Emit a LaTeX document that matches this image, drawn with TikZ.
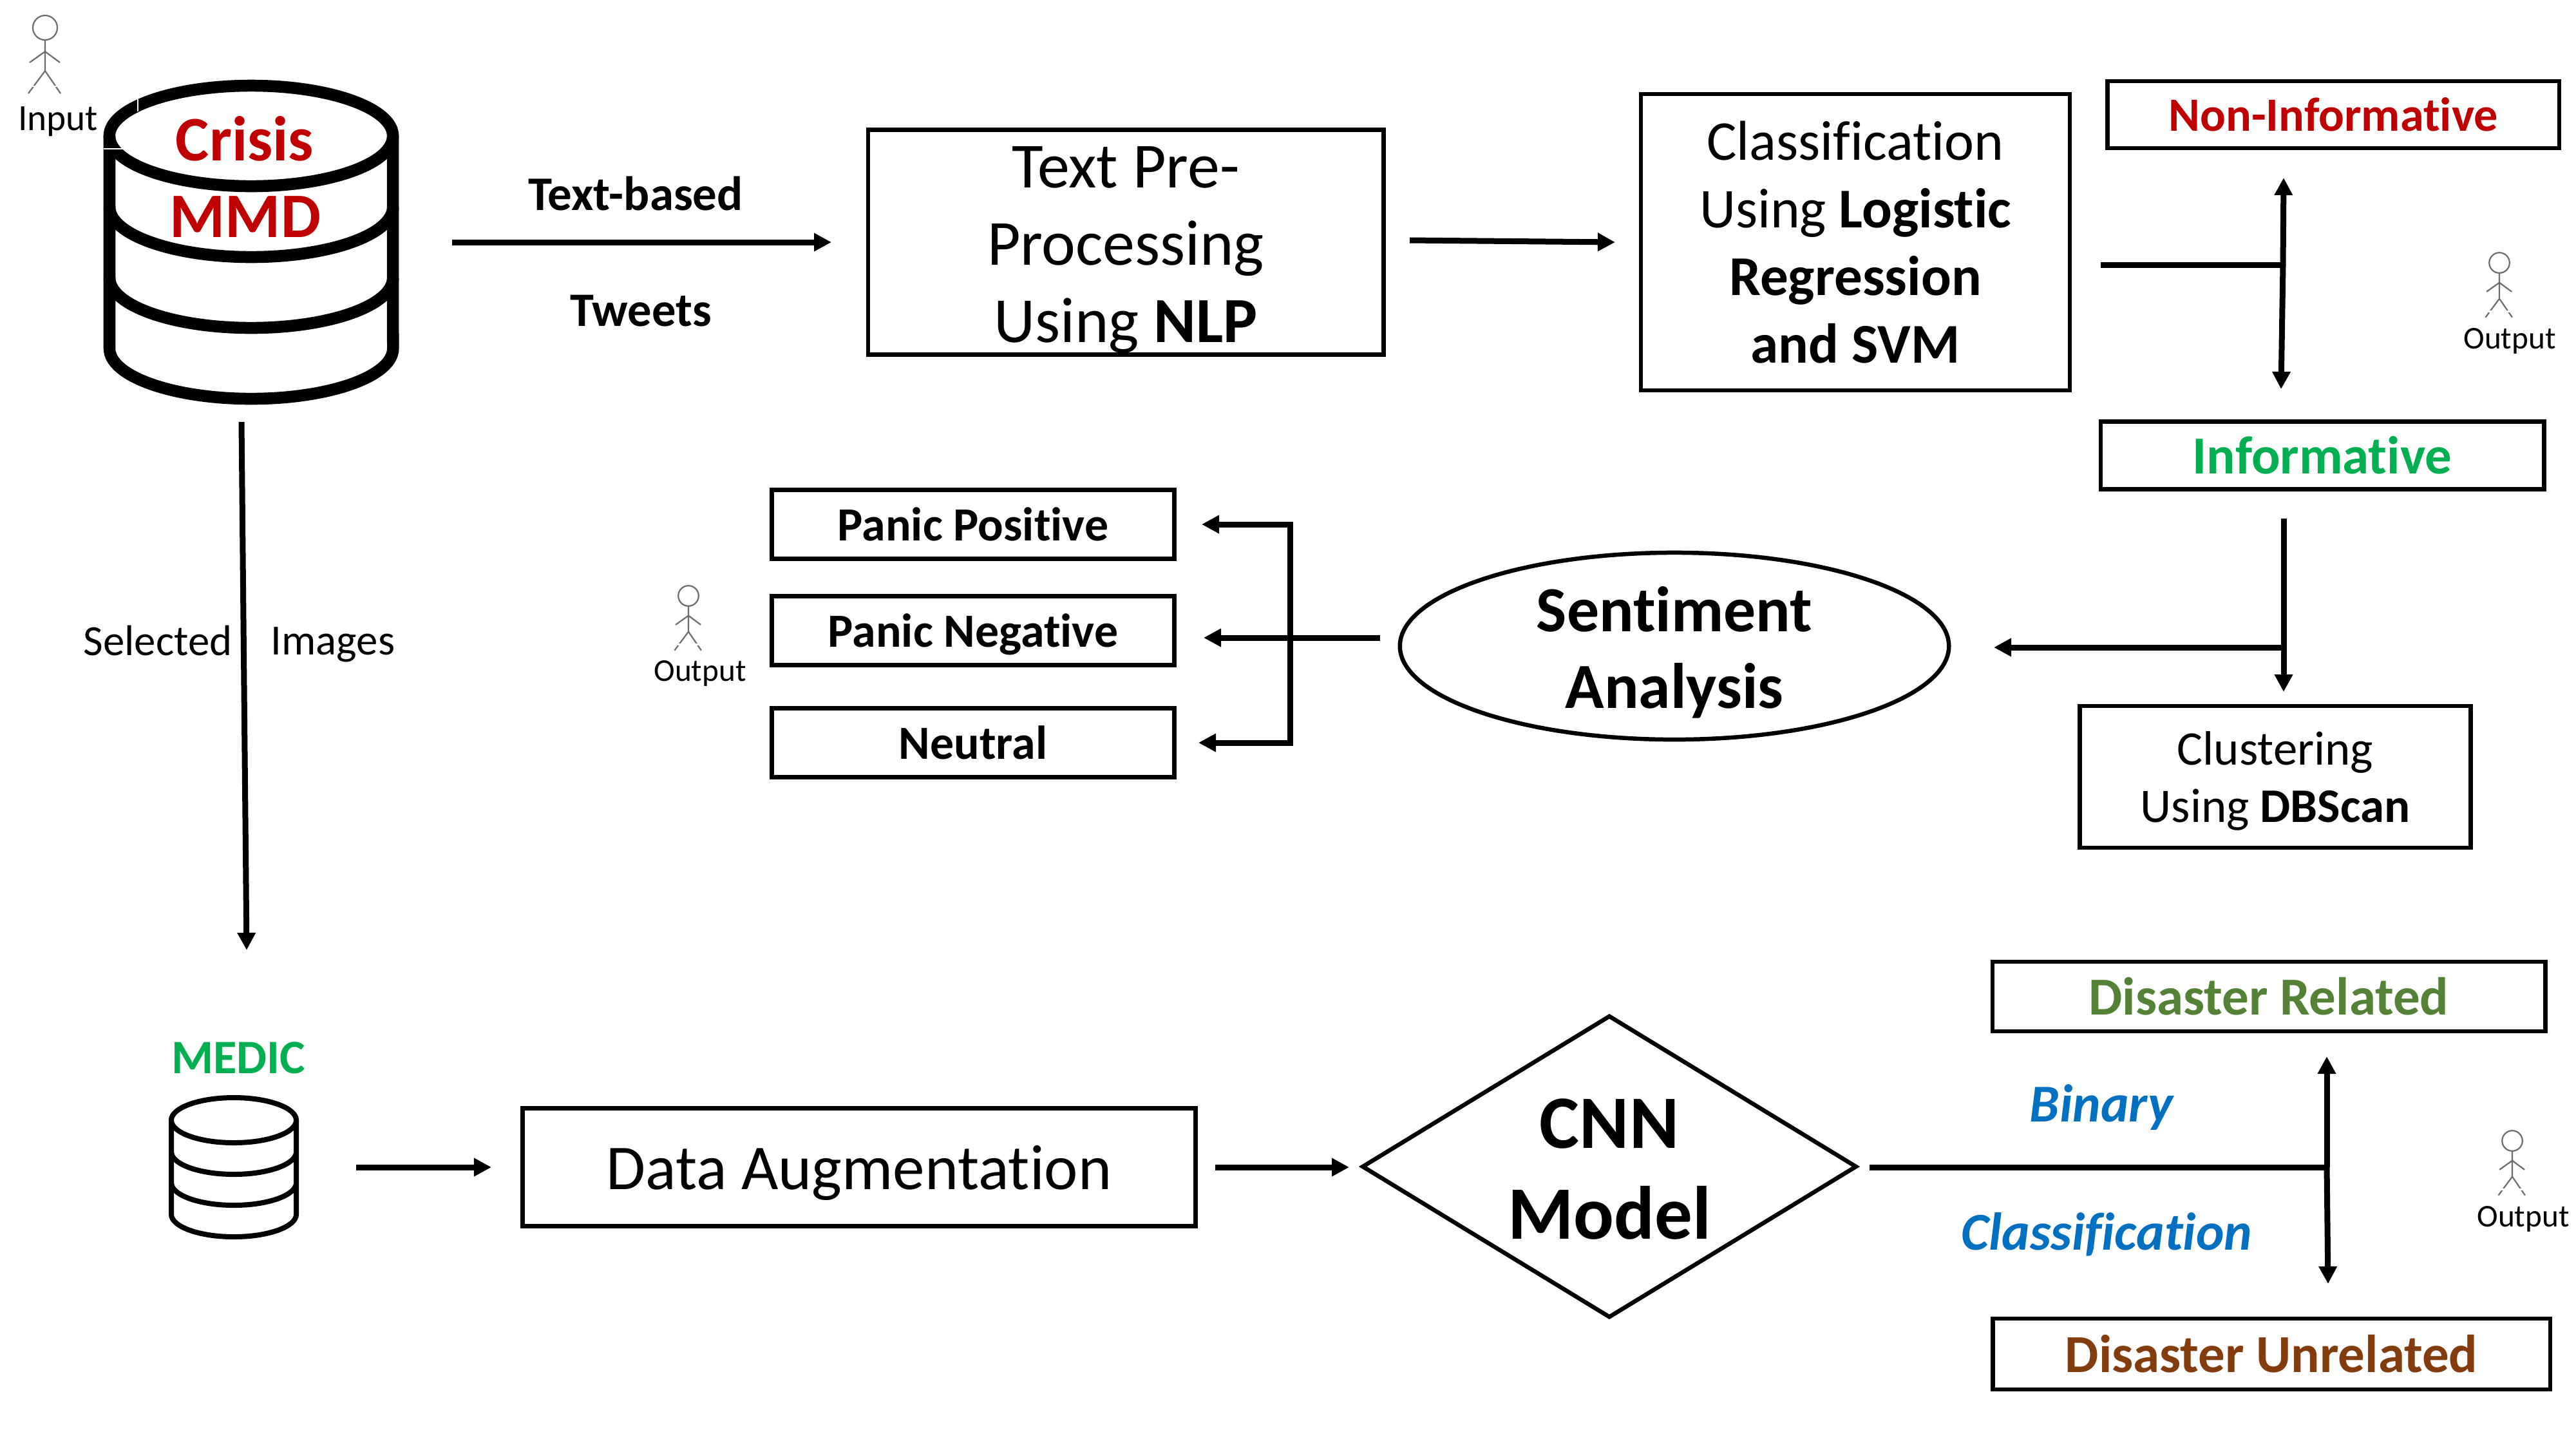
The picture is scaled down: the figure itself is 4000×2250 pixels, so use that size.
\documentclass[tikz,border=0pt]{standalone}
\usepackage{fontspec}
\setmainfont{Carlito}[Ligatures=NoCommon]
\usetikzlibrary{arrows.meta,shapes.geometric}
\definecolor{cred}{HTML}{C00000}
\definecolor{cgreen}{HTML}{00B050}
\definecolor{cdgreen}{HTML}{548235}
\definecolor{cbrown}{HTML}{843C0C}
\definecolor{cblue}{HTML}{0070C0}
\newcommand{\fs}[2]{\fontsize{#1}{#2}\selectfont}
\tikzset{
  boxn/.style={draw=black,line width=0.065cm,inner sep=0pt,align=center},
  txt/.style={inner sep=0pt,align=center},
  conn/.style={line width=0.09cm,-{Triangle[length=0.27cm,width=0.27cm]}},
  seg/.style={line width=0.09cm},
  cyl/.style={line width=0.185cm},
  cyls/.style={line width=0.08cm},
  figure/.pic={
    \draw[gray!85!black,line width=0.022cm] (0,0) circle[radius=0.19cm];
    \draw[gray!85!black,line width=0.022cm] (0,19)--(0,67) (-24,54)--(0,37)--(23,54) (-26,102)--(0,67)--(24,102);
    \draw[white,line width=0.025cm] (-30,91)--(-11,91) (11,91)--(30,91);
  }
}
\begin{document}
\begin{tikzpicture}[x=0.01cm,y=-0.01cm]
\path[use as bounding box,fill=white] (0,0) rectangle (4000,2250);

% large database
\draw[cyl,fill=white] (390,211) ellipse[x radius=2.2cm,y radius=0.78cm];
\draw[cyl] (170,211) -- (170,541) arc[start angle=180,end angle=360,x radius=2.2cm,y radius=0.78cm] -- (610,211);
\draw[cyl] (170,321) arc[start angle=180,end angle=360,x radius=2.2cm,y radius=0.78cm];
\draw[cyl] (170,431) arc[start angle=180,end angle=360,x radius=2.2cm,y radius=0.78cm];
\draw[white,line width=0.025cm] (214,154)--(214,173) (161,231)--(192,231);
\node[txt,text=cred,font=\bfseries\fs{28}{33}] (crisis) at (380,215) {Crisis};
\node[txt,text=cred,font=\bfseries\fs{28}{33}] (mmd) at (381,337) {MMD};

% small database
\draw[cyls] (363,1739) ellipse[x radius=0.97cm,y radius=0.35cm];
\draw[cyls] (266,1739) -- (266,1885) arc[start angle=180,end angle=360,x radius=0.97cm,y radius=0.35cm] -- (460,1739);
\draw[cyls] (266,1788) arc[start angle=180,end angle=360,x radius=0.97cm,y radius=0.35cm];
\draw[cyls] (266,1836) arc[start angle=180,end angle=360,x radius=0.97cm,y radius=0.35cm];
\node[txt,text=cgreen,font=\bfseries\fs{21.2}{25}] (medic) at (370,1642) {MEDIC};

% actors
\pic (actin) at (70,43) {figure};
\pic[scale=0.83] (actout1) at (3881,408) {figure};
\pic[scale=0.83] (actout2) at (1069,925) {figure};
\pic[scale=0.83] (actout3) at (3901,1771) {figure};
\node[txt,font=\fs{16.3}{19}] (inp) at (90,189) {Input};
\node[txt,font=\fs{14}{17}] (out1) at (3897,529) {Output};
\node[txt,font=\fs{14}{17}] (out2) at (1087,1045) {Output};
\node[txt,font=\fs{14}{17}] (out3) at (3918,1892) {Output};

% boxes
\node[boxn,minimum width=8cm,minimum height=3.49cm] (pre) at (1748,376) {};
\node[txt,font=\fs{28.4}{34}] (pretxt) at (1748,388) {Text Pre-\\Processing\\Using \textbf{NLP}};
\node[boxn,minimum width=6.66cm,minimum height=4.6cm,font=\fs{24.8}{29.8}] (cls) at (2881,376) {Classification\\Using \textbf{Logistic}\\\textbf{Regression}\\\textbf{and SVM}};
\node[boxn,minimum width=7.01cm,minimum height=1.04cm,text=cred,font=\bfseries\fs{21.1}{25}] (noninf) at (3623,178) {Non-Informative};
\node[boxn,minimum width=6.88cm,minimum height=1.05cm,text=cgreen,font=\bfseries\fs{23.6}{27}] (inf) at (3606,707) {Informative};
\node[boxn,minimum width=6.07cm,minimum height=2.2cm,text depth=0pt,font=\fs{21.3}{25.4}] (clu) at (3533,1206) {Clustering\\Using \textbf{DBScan}};
\node[boxn,minimum width=6.25cm,minimum height=1.07cm,font=\bfseries\fs{21}{25}] (pp) at (1511,814) {Panic Positive};
\node[boxn,minimum width=6.25cm,minimum height=1.07cm,text depth=0pt,font=\bfseries\fs{21}{25}] (pn) at (1511,979) {Panic Negative};
\node[boxn,minimum width=6.25cm,minimum height=1.07cm,font=\bfseries\fs{21}{25}] (neu) at (1511,1153) {Neutral};
\node[boxn,ellipse,minimum width=8.52cm,minimum height=2.9cm] (sent) at (2600,1003) {};
\node[txt,font=\bfseries\fs{28.4}{34}] (senttxt) at (2600,1013) {Sentiment\\Analysis};
\node[boxn,minimum width=10.44cm,minimum height=1.83cm,text depth=0pt,font=\fs{28.2}{34}] (aug) at (1334,1812) {Data Augmentation};
\node[boxn,diamond,shape aspect=1.637,minimum width=7.68cm,minimum height=4.69cm] (cnn) at (2499,1811) {};
\node[txt,font=\bfseries\fs{33.3}{40}] (cnntxt) at (2499,1815) {CNN\\Model};
\node[boxn,minimum width=8.58cm,minimum height=1.08cm,text=cdgreen,font=\bfseries\fs{23.6}{27}] (rel) at (3523,1547) {Disaster Related};
\node[boxn,minimum width=8.65cm,minimum height=1.1cm,text=cbrown,font=\bfseries\fs{23.6}{27}] (unrel) at (3527,2102) {Disaster Unrelated};

% labels
\node[txt,font=\bfseries\fs{21.3}{25}] (tb) at (987,300) {Text-based};
\node[txt,font=\bfseries\fs{21.2}{25}] (tw) at (995,483) {Tweets};
\node[txt,font=\fs{19}{23}] (sel) at (245,995) {Selected};
\node[txt,text depth=0pt,font=\fs{19}{23}] (img) at (517,995) {Images};
\node[txt,text=cblue,font=\bfseries\itshape\fs{23.5}{27}] (bin) at (3263,1719) {Binary};
\node[txt,text=cblue,font=\bfseries\itshape\fs{23.5}{27}] (clf) at (3271,1916) {Classification};

% connector ends
\coordinate (a1s) at (702,376); \coordinate (a1e) at (1291,376);
\coordinate (a2s) at (2189,373); \coordinate (a2e) at (2508,376);
\coordinate (t1) at (3262,411); \coordinate (j1) at (3545,411);
\coordinate (upe) at (3546,276); \coordinate (dne) at (3542,604);
\coordinate (s1) at (3546,805); \coordinate (s1e) at (3546,1074);
\coordinate (j2) at (3546,1005); \coordinate (j2e) at (3096,1005);
\coordinate (sa) at (2143,990); \coordinate (j3e) at (1869,990);
\coordinate (br1) at (2003,814); \coordinate (br1e) at (1866,814);
\coordinate (br2) at (2003,1153); \coordinate (br2e) at (1861,1153);
\coordinate (dbs) at (375,655); \coordinate (dbe) at (383,1475);
\coordinate (m1) at (553,1812); \coordinate (m1e) at (763,1812);
\coordinate (m2) at (1887,1812); \coordinate (m2e) at (2095,1812);
\coordinate (c1) at (2903,1812); \coordinate (j4) at (3613,1812);
\coordinate (c1u) at (3613,1640); \coordinate (c1d) at (3615,1993);

% connectors
\draw[conn] (a1s) -- (a1e);
\draw[conn] (a2s) -- (a2e);
\draw[seg] (t1) -- (j1);
\draw[conn] (j1) -- (upe);
\draw[conn] (j1) -- (dne);
\draw[conn] (s1) -- (s1e);
\draw[conn] (j2) -- (j2e);
\draw[conn] (sa) -- (j3e);
\draw[seg,line cap=rect] (br1) -- (br2);
\draw[conn] (br1) -- (br1e);
\draw[conn] (br2) -- (br2e);
\draw[conn] (dbs) -- (dbe);
\draw[conn] (m1) -- (m1e);
\draw[conn] (m2) -- (m2e);
\draw[seg] (c1) -- (j4);
\draw[conn] (j4) -- (c1u);
\draw[conn] (j4) -- (c1d);
\end{tikzpicture}
\end{document}
